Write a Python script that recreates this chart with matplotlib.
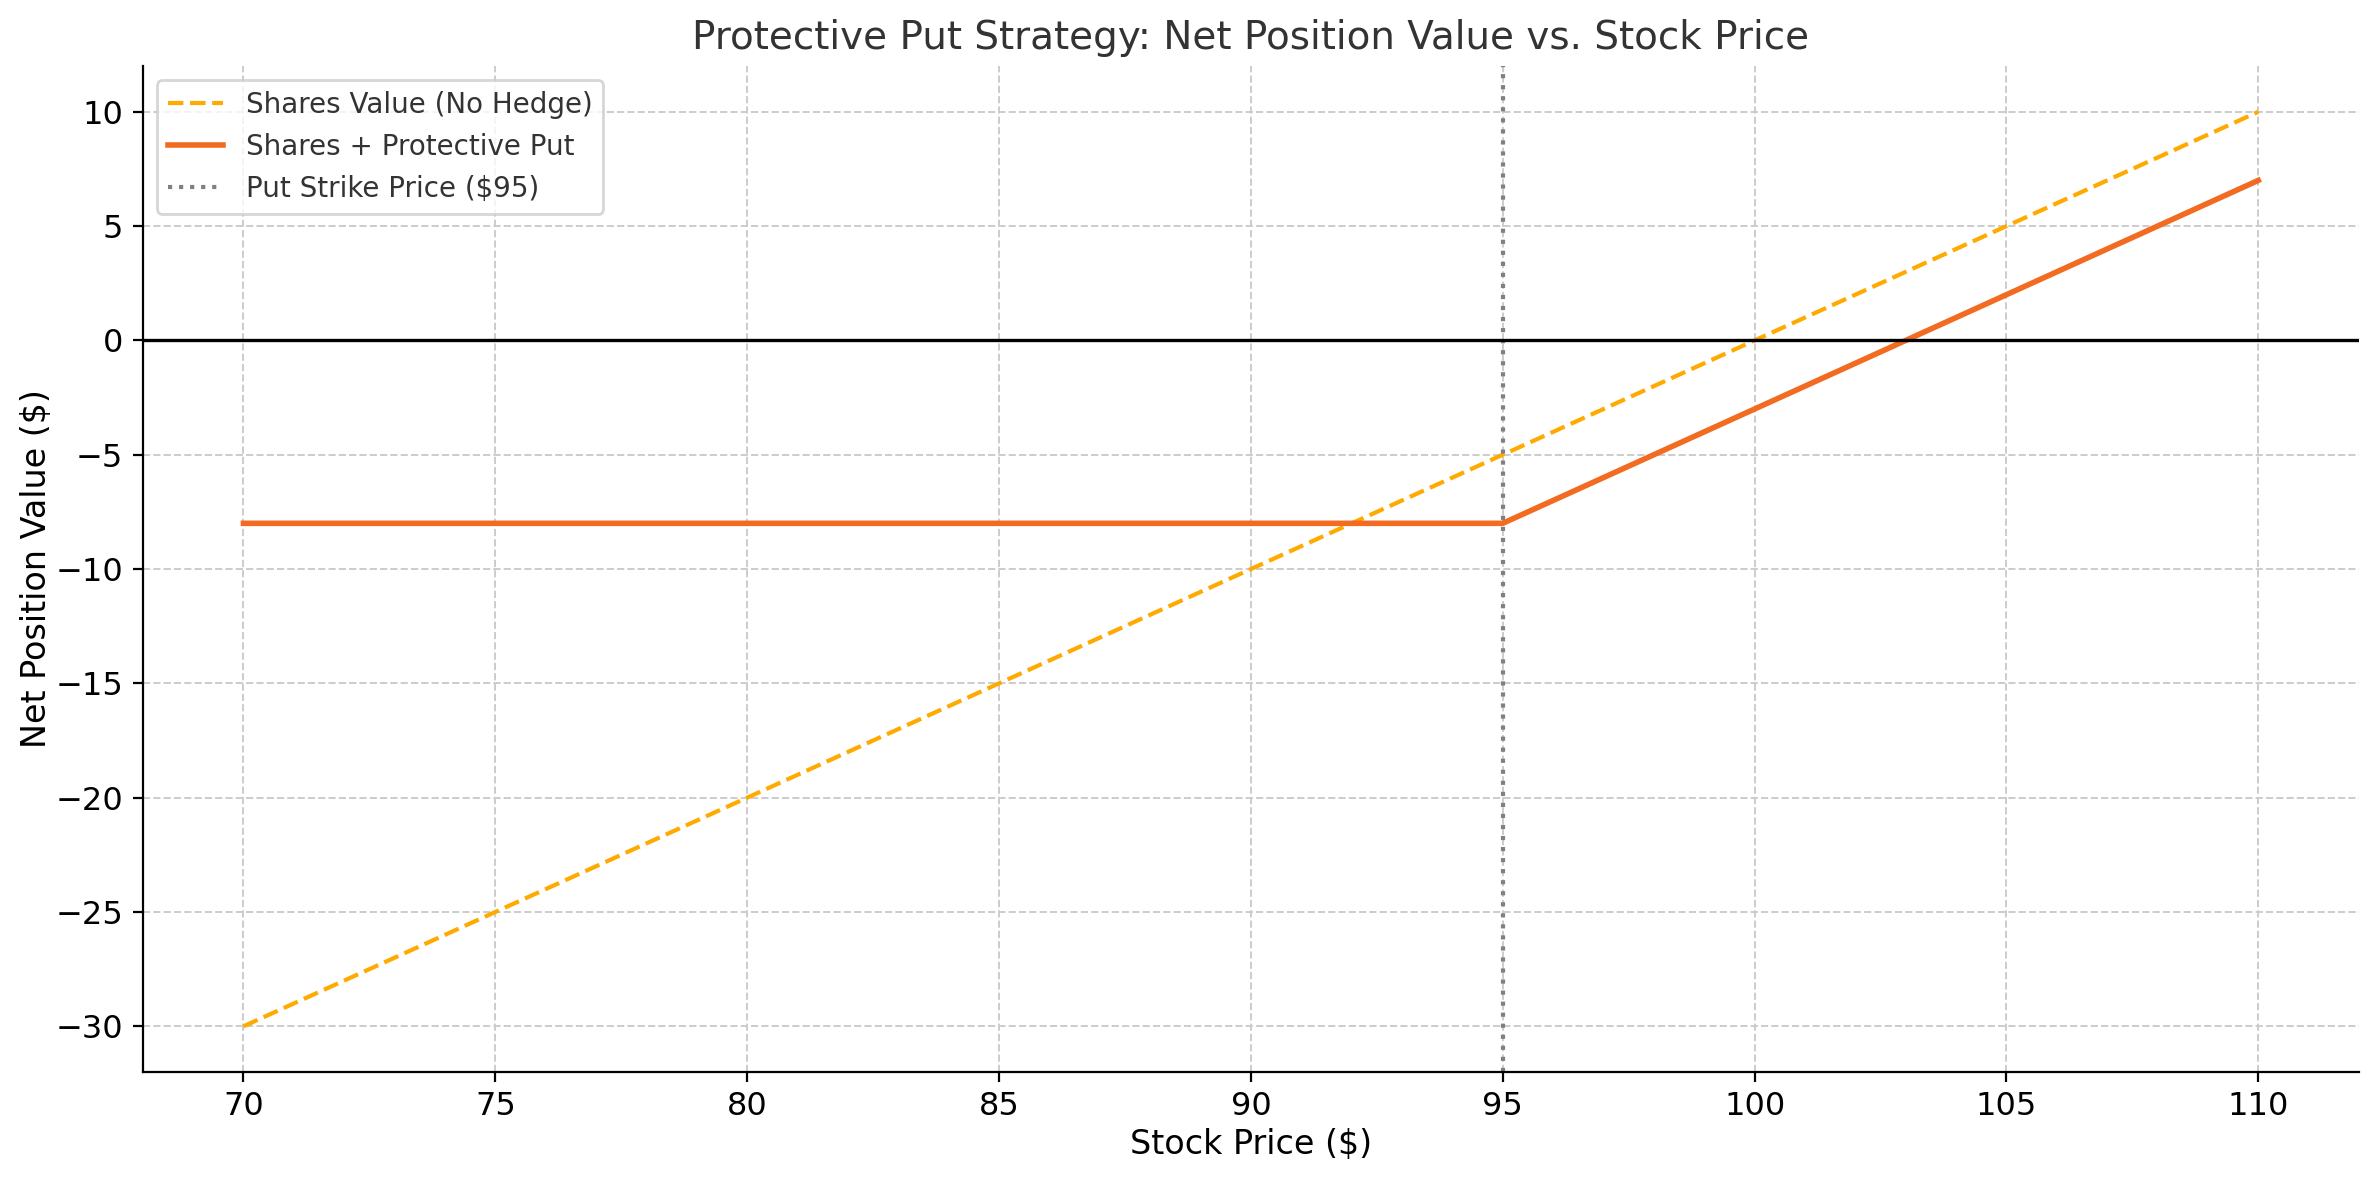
import numpy as np
import matplotlib.pyplot as plt

# stock prices at expiry and the matching position values
prices = [70, 75, 80, 85, 90, 95, 100, 105, 110]
shares_value = [-30, -25, -20, -15, -10, -5, 0, 5, 10]
hedged_value = [-8, -8, -8, -8, -8, -8, -3, 2, 7]
strike = 95

fig, ax = plt.subplots(figsize=(11.895, 5.9), dpi=200)

ax.plot(prices, shares_value, linestyle='--', color='#FFAA00', linewidth=1.5,
        label='Shares Value (No Hedge)')
ax.plot(prices, hedged_value, color='#F26B21', linewidth=2,
        label='Shares + Protective Put')
ax.axvline(strike, color='gray', linestyle=':', linewidth=1.5,
           label='Put Strike Price ($95)')
ax.axhline(0, color='black', linewidth=1.2)

ax.set_title('Protective Put Strategy: Net Position Value vs. Stock Price',
             fontsize=14, color='#333333')
ax.set_xlabel('Stock Price ($)', fontsize=12, labelpad=2)
ax.set_ylabel('Net Position Value ($)', fontsize=12, labelpad=1)
ax.tick_params(labelsize=11.5)
ax.set_xticks(np.arange(70, 111, 5))
ax.set_yticks(np.arange(-30, 11, 5))
ax.grid(True, linestyle='--', color='#cccccc', linewidth=0.7)
ax.spines['top'].set_visible(False)
ax.spines['right'].set_visible(False)

leg = ax.legend(loc='upper left', fontsize=10)
for t in leg.get_texts():
    t.set_color('#333333')

plt.subplots_adjust(left=0.060, right=0.9916, top=0.944, bottom=0.0915)
plt.savefig('out.png', dpi=200)
